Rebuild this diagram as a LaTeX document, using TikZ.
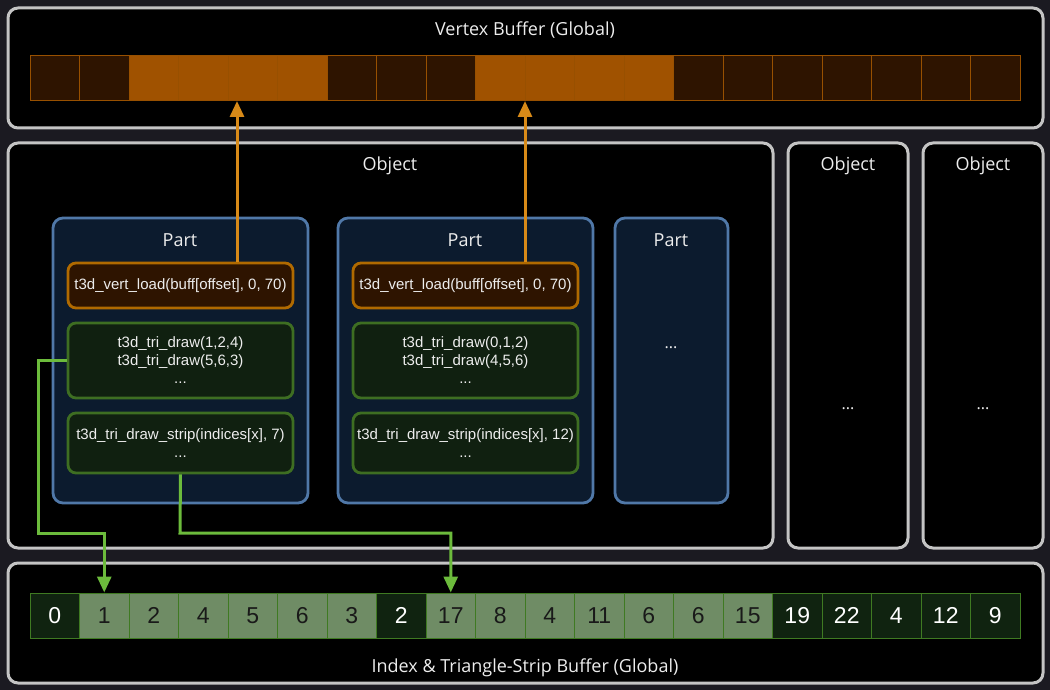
\documentclass[tikz,border=0pt]{standalone}
\usepackage{fontspec}
\setmainfont{Open Sans}
\newfontfamily\codefont{Liberation Sans}
\usetikzlibrary{arrows.meta,calc}
\definecolor{bgc}{HTML}{1B1A21}
\definecolor{boxline}{HTML}{C4C4C4}
\definecolor{partfill}{HTML}{0C1B2E}
\definecolor{partline}{HTML}{5078A8}
\definecolor{vlfill}{HTML}{2E1400}
\definecolor{vlline}{HTML}{B06A00}
\definecolor{gfill}{HTML}{102010}
\definecolor{gline}{HTML}{3E6E22}
\definecolor{orangecell}{HTML}{A05200}
\definecolor{darkocell}{HTML}{2E1400}
\definecolor{ocellline}{HTML}{985000}
\definecolor{lightg}{HTML}{6F8C65}
\definecolor{darkg}{HTML}{102310}
\definecolor{gcellline}{HTML}{3F7A22}
\definecolor{oarrowc}{HTML}{D88A18}
\definecolor{garrowc}{HTML}{6CBB3C}
\definecolor{txt}{HTML}{EDEDED}
\tikzset{
  outerbox/.style={draw=boxline, line width=3pt, fill=black, rounded corners=10pt, inner sep=0pt},
  partbox/.style={draw=partline, line width=2.8pt, fill=partfill, rounded corners=10pt, inner sep=0pt, minimum width=255pt, minimum height=285pt},
  vlbox/.style={draw=vlline, line width=2.8pt, fill=vlfill, rounded corners=8pt, inner sep=0pt, minimum width=225pt, minimum height=45pt, text=txt, font=\codefont\fontsize{15}{18}\selectfont, align=center},
  gbox/.style={draw=gline, line width=2.8pt, fill=gfill, rounded corners=8pt, inner sep=0pt, minimum width=225pt, text=txt, font=\codefont\fontsize{15}{18}\selectfont, align=center},
  title/.style={text=txt, font=\fontsize{18}{21}\selectfont, inner sep=0pt},
  dots/.style={text=txt, font=\fontsize{16}{18}\selectfont, inner sep=0pt},
  vcell/.style={draw=ocellline, line width=1pt, minimum width=49.5pt, minimum height=45pt, inner sep=0pt},
  icell/.style={draw=gcellline, line width=1pt, minimum width=49.5pt, minimum height=45pt, inner sep=0pt, font=\codefont\fontsize{23}{26}\selectfont},
  oarrow/.style={draw=oarrowc, line width=3pt, -{Triangle[length=16pt,width=14pt]}},
  garrow/.style={draw=garrowc, line width=3pt, -{Triangle[length=16pt,width=14pt]}},
}
\begin{document}
\begin{tikzpicture}[x=1pt,y=-1pt]
\fill[bgc] (0,0) rectangle (1050,690);
\useasboundingbox (0,0) rectangle (1050,690);

% Vertex buffer
\node[outerbox, minimum width=1035pt, minimum height=120pt] (vb) at (525.5,68) {};
\node[title] (vbt) at (525,30.5) {Vertex Buffer (Global)};
\foreach \i/\k in {0/0,1/0,2/1,3/1,4/1,5/1,6/0,7/0,8/0,9/1,10/1,11/1,12/1,13/0,14/0,15/0,16/0,17/0,18/0,19/0}{
  \ifnum\k=1
    \node[vcell, fill=orangecell] (v\i) at ({30+49.5*\i+24.75},78.5) {};
  \else
    \node[vcell, fill=darkocell] (v\i) at ({30+49.5*\i+24.75},78.5) {};
  \fi
}

% Objects
\node[outerbox, minimum width=765pt, minimum height=405pt] (obj1) at (390.5,345.5) {};
\node[title] (obj1t) at (390,165.5) {Object};
\node[outerbox, minimum width=120pt, minimum height=405pt] (obj2) at (848,345.5) {};
\node[title] (obj2t) at (848,165.5) {Object};
\node[dots] (obj2d) at (848,409) {...};
\node[outerbox, minimum width=120pt, minimum height=405pt] (obj3) at (983,345.5) {};
\node[title] (obj3t) at (983,165.5) {Object};
\node[dots] (obj3d) at (983,409) {...};

% Parts
\node[partbox] (p1) at (180.5,360.5) {};
\node[title] (p1t) at (180,240.5) {Part};
\node[partbox] (p2) at (465.5,360.5) {};
\node[title] (p2t) at (465,240.5) {Part};
\node[partbox, minimum width=113pt] (p3) at (671.5,360.5) {};
\node[title] (p3t) at (671,240.5) {Part};
\node[dots] (p3d) at (671,348) {...};

% Part 1 contents
\node[vlbox] (vl1) at (180.5,285.5) {t3d\_vert\_load(buff[offset], 0, 70)};
\node[gbox, minimum height=75pt] (td1) at (180.5,360.5) {t3d\_tri\_draw(1,2,4)\\t3d\_tri\_draw(5,6,3)\\...};
\node[gbox, minimum height=60pt] (ts1) at (180.5,443) {t3d\_tri\_draw\_strip(indices[x], 7)\\...};

% Part 2 contents
\node[vlbox] (vl2) at (465.5,285.5) {t3d\_vert\_load(buff[offset], 0, 70)};
\node[gbox, minimum height=75pt] (td2) at (465.5,360.5) {t3d\_tri\_draw(0,1,2)\\t3d\_tri\_draw(4,5,6)\\...};
\node[gbox, minimum height=60pt] (ts2) at (465.5,443) {t3d\_tri\_draw\_strip(indices[x], 12)\\...};

% Index buffer
\node[outerbox, minimum width=1035pt, minimum height=120pt] (ib) at (525.5,623) {};
\node[title] (ibt) at (525,667.5) {Index \& Triangle-Strip Buffer (Global)};
\foreach \i/\n/\k in {0/0/0,1/1/1,2/2/1,3/4/1,4/5/1,5/6/1,6/3/1,7/2/0,8/17/1,9/8/1,10/4/1,11/11/1,12/6/1,13/6/1,14/15/1,15/19/0,16/22/0,17/4/0,18/12/0,19/9/0}{
  \ifnum\k=1
    \node[icell, fill=lightg, text=black!90] (c\i) at ({30+49.5*\i+24.75},615.5) {\n};
  \else
    \node[icell, fill=darkg, text=white] (c\i) at ({30+49.5*\i+24.75},615.5) {\n};
  \fi
}

% Orange arrows
\coordinate (ot1) at (237,101);
\coordinate (ot2) at (525,101);
\draw[oarrow] (vl1.north -| ot1) -- (ot1);
\draw[oarrow] (vl2.north -| ot2) -- (ot2);

% Green arrows
\coordinate (gj1) at (38,533);
\coordinate (gj2) at (180,533);
\draw[garrow] (td1.west) -| (gj1) -| (c1.north);
\draw[garrow] (ts1.south) -- (gj2) -| (c8.north);
\end{tikzpicture}
\end{document}
